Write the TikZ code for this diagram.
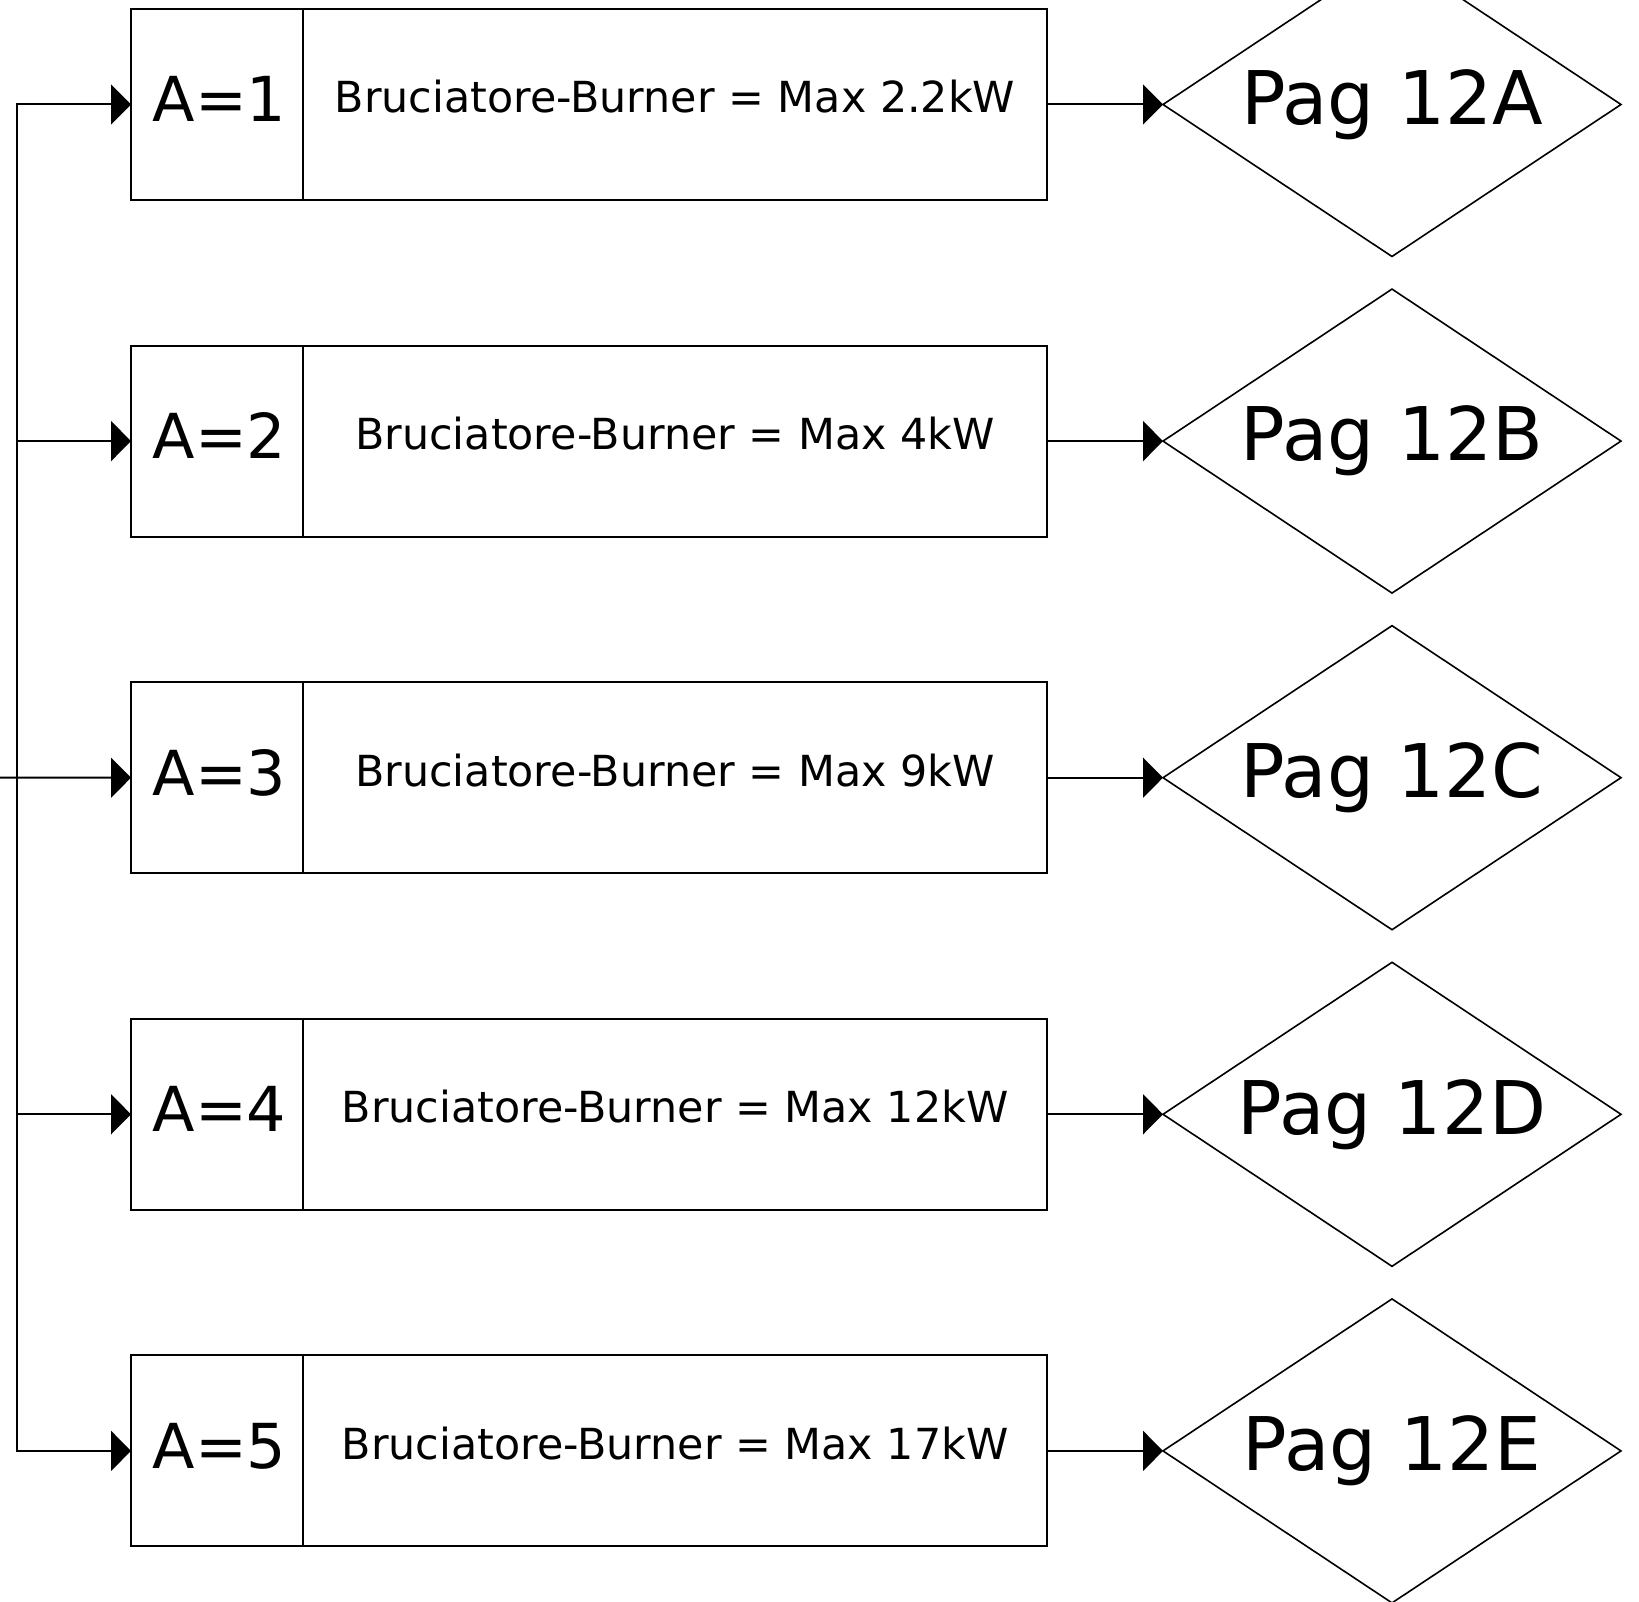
\documentclass[tikz,border=0pt]{standalone}
\usepackage{fontspec}
\setmainfont{DejaVu Sans}
\usetikzlibrary{arrows.meta, positioning, shapes.geometric}

\begin{document}
\begin{tikzpicture}[x=1pt, y=-1pt, line width=2pt,
    cellA/.style={draw, rectangle, minimum width=172pt, minimum height=191pt, inner sep=0pt, outer sep=0pt,
        font=\fontsize{62}{62}\selectfont, text height=45pt, text depth=10pt},
    cellB/.style={draw, rectangle, minimum width=744pt, minimum height=191pt, inner sep=0pt, outer sep=0pt,
        font=\fontsize{42.8}{42.8}\selectfont, text height=32pt, text depth=15pt},
    pagina/.style={draw, diamond, aspect=1.5, line width=1.6pt, minimum width=458pt, minimum height=304pt,
        inner sep=0pt, outer sep=0pt, font=\fontsize{74}{74}\selectfont},
    freccia/.style={-{Triangle[length=20pt, width=40pt]}}]
    \useasboundingbox (0,0) rectangle (1639,1602);

    % righe: potenza bruciatore -> pagina
    \foreach \i/\kw/\lett in {1/2.2/A, 2/4/B, 3/9/C, 4/12/D, 5/17/E} {
        \pgfmathsetmacro{\yy}{104.5+336.6*(\i-1)}
        \node[cellA] (a\i) at (217,\yy) {\hspace{5pt}A=\i};
        \node[cellB, right=0pt of a\i] (b\i) {Bruciatore-Burner = Max \kw kW};
        \node[pagina] (p\i) at (1392,\yy) {Pag 12\lett};
        \draw[freccia] (b\i.east) -- (p\i.west);
    }

    % ingresso e linea di distribuzione
    \coordinate (ingresso) at (0,777.7);
    \coordinate (bus) at (16.5,777.7);
    \draw[freccia] (ingresso) -- (a3.west);
    \foreach \i in {1,2,4,5}
        \draw[freccia] (bus) |- (a\i.west);
\end{tikzpicture}
\end{document}
